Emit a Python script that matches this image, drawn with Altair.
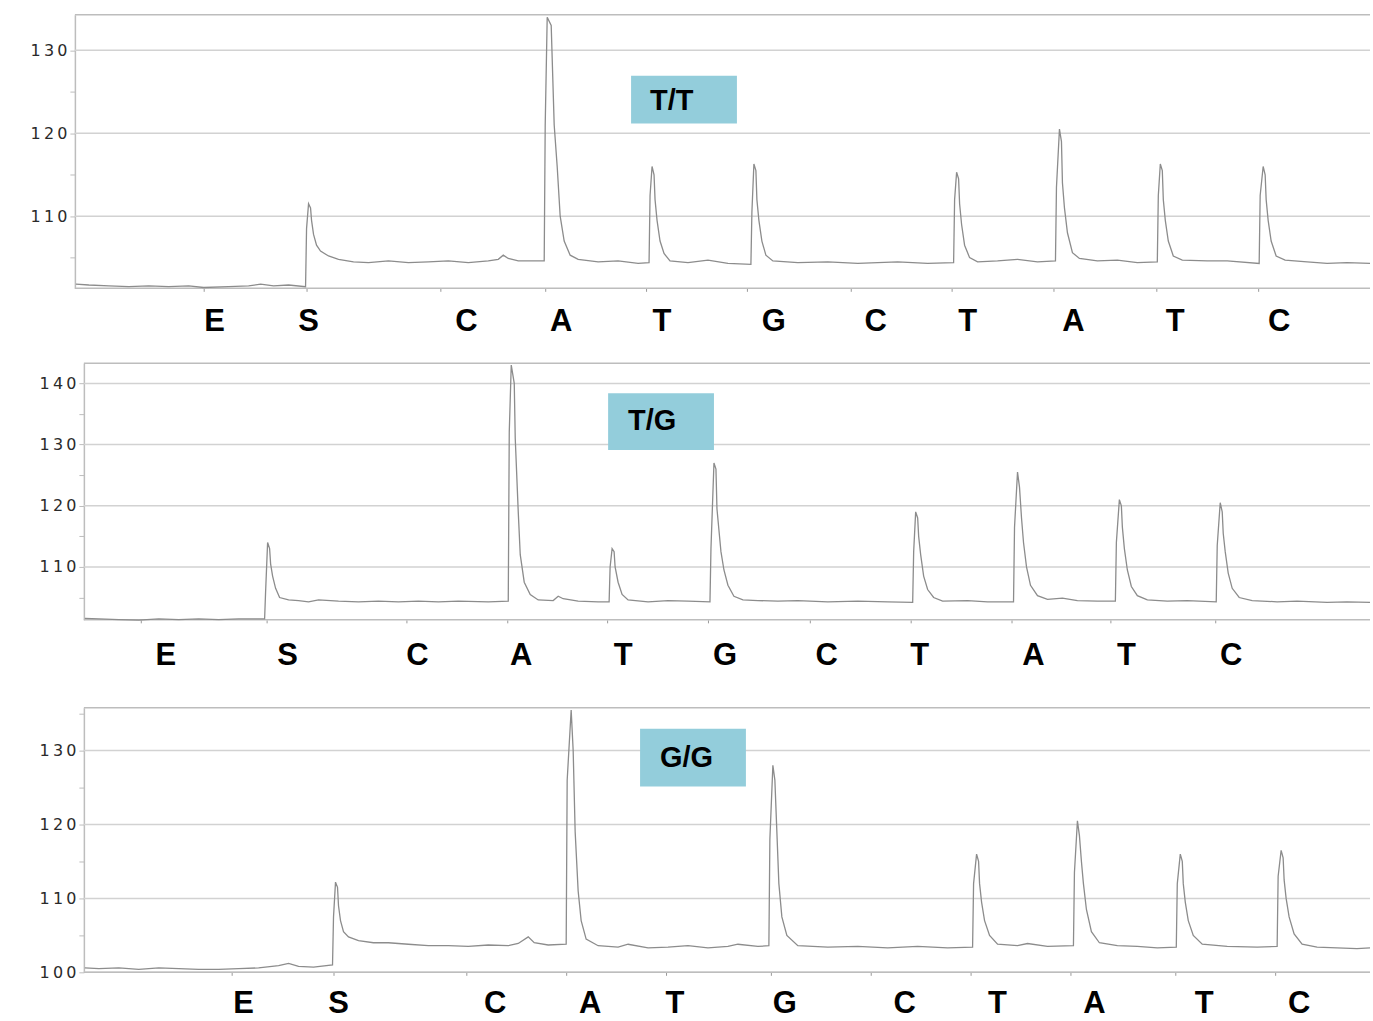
import altair as alt
import pandas as pd

# ---------------- data ----------------
DISPENSATION = ["E", "S", "C", "A", "T", "G", "C", "T", "A", "T", "C"]

GENOTYPES = ["T/T", "T/G", "G/G"]

# dispensation time (tick) positions per run
TICKS_TT = [205, 308, 442, 547, 648, 749, 853, 954, 1056, 1159, 1261]
TICKS_TG = [142, 268, 408, 509, 609, 710, 812, 913, 1014, 1113, 1218]
TICKS_GG = [233, 335, 468, 568, 668, 773, 873, 973, 1073, 1178, 1278]

# where each dispensation letter is printed under the trace
LETTER_T_TT = [216, 310, 468, 563, 664, 776, 878, 970, 1076, 1178, 1282]
LETTER_T_TG = [167, 289, 419, 523, 625, 727, 829, 922, 1036, 1129, 1234]
LETTER_T_GG = [245, 340, 497, 592, 677, 787, 907, 1000, 1097, 1207, 1302]

# light signal traces (time, signal)
TRACE_TT = [
    (77, 101.8), (90, 101.7), (110, 101.6), (130, 101.5), (150, 101.6), (170, 101.5),
    (190, 101.6), (205, 101.4), (230, 101.5), (250, 101.6), (262, 101.8), (275, 101.6),
    (290, 101.7), (307, 101.5),
    (308, 108.5), (310, 111.5), (312, 111.0), (313, 109.5), (315, 107.8), (318, 106.5),
    (322, 105.8), (330, 105.2), (340, 104.8), (355, 104.5), (370, 104.4), (390, 104.6),
    (410, 104.4), (430, 104.5), (450, 104.6), (470, 104.4), (490, 104.6), (500, 104.8),
    (505, 105.3), (510, 104.9), (520, 104.6), (546, 104.6),
    (547, 121.0), (549, 134.0), (553, 133.0), (556, 121.0), (559, 116.0), (562, 110.0),
    (566, 107.0), (572, 105.3), (580, 104.8), (600, 104.5), (620, 104.6), (640, 104.3),
    (651, 104.4),
    (652, 112.5), (654, 116.0), (656, 115.0), (657, 112.0), (659, 109.5), (662, 107.0),
    (666, 105.5), (672, 104.6), (690, 104.4), (710, 104.7), (730, 104.3), (753, 104.2),
    (754, 110.5), (756, 116.3), (758, 115.5), (759, 112.0), (761, 109.5), (764, 107.0),
    (768, 105.3), (775, 104.6), (800, 104.4), (830, 104.5), (860, 104.3), (900, 104.5),
    (930, 104.3), (956, 104.4),
    (957, 112.0), (959, 115.3), (961, 114.5), (962, 111.5), (964, 109.0), (967, 106.5),
    (972, 105.0), (980, 104.5), (1000, 104.6), (1020, 104.8), (1040, 104.5), (1058, 104.6),
    (1059, 113.5), (1062, 120.5), (1064, 119.0), (1065, 114.0), (1067, 111.0), (1070, 108.0),
    (1075, 105.6), (1082, 104.9), (1100, 104.6), (1120, 104.7), (1140, 104.4), (1160, 104.5),
    (1161, 112.5), (1163, 116.3), (1165, 115.5), (1166, 112.0), (1168, 109.5), (1171, 107.0),
    (1176, 105.2), (1185, 104.7), (1210, 104.6), (1230, 104.6), (1262, 104.3),
    (1263, 112.5), (1266, 116.0), (1268, 115.0), (1269, 112.0), (1271, 109.5), (1274, 107.0),
    (1279, 105.2), (1288, 104.7), (1310, 104.5), (1330, 104.3), (1350, 104.4), (1373, 104.3),
]

TRACE_TG = [
    (86, 101.6), (100, 101.5), (120, 101.4), (140, 101.3), (160, 101.5), (180, 101.4),
    (200, 101.5), (220, 101.4), (240, 101.5), (266, 101.5),
    (267, 106.0), (269, 114.0), (271, 113.0), (272, 110.5), (274, 108.5), (277, 106.5),
    (281, 105.0), (290, 104.6), (300, 104.5), (310, 104.3), (320, 104.6), (340, 104.4),
    (360, 104.3), (380, 104.4), (400, 104.3), (420, 104.4), (440, 104.3), (460, 104.4),
    (490, 104.3), (510, 104.4),
    (511, 132.0), (513, 143.0), (516, 140.0), (517, 131.0), (520, 119.0), (522, 112.0),
    (526, 107.5), (532, 105.5), (540, 104.6), (555, 104.5), (560, 105.2), (565, 104.8),
    (580, 104.4), (600, 104.3), (611, 104.3),
    (612, 110.0), (614, 113.0), (616, 112.5), (617, 110.0), (620, 107.5), (624, 105.5),
    (630, 104.6), (650, 104.3), (670, 104.5), (690, 104.4), (712, 104.3),
    (713, 113.0), (716, 127.0), (718, 126.0), (719, 119.5), (721, 116.0), (723, 112.5),
    (726, 109.5), (730, 107.0), (736, 105.2), (745, 104.6), (760, 104.5), (780, 104.4),
    (800, 104.5), (830, 104.3), (860, 104.4), (890, 104.3), (915, 104.2),
    (916, 112.5), (918, 119.0), (920, 118.0), (921, 115.0), (923, 112.0), (926, 108.5),
    (930, 106.3), (936, 105.0), (945, 104.4), (970, 104.5), (990, 104.3), (1016, 104.3),
    (1017, 116.5), (1020, 125.5), (1022, 123.0), (1024, 118.0), (1026, 114.0), (1029, 110.0),
    (1033, 107.0), (1040, 105.3), (1050, 104.7), (1065, 104.9), (1080, 104.5), (1100, 104.4),
    (1118, 104.4),
    (1119, 114.0), (1122, 121.0), (1124, 120.0), (1125, 116.5), (1127, 113.0), (1130, 109.5),
    (1134, 106.8), (1140, 105.3), (1150, 104.6), (1170, 104.4), (1190, 104.5), (1219, 104.3),
    (1220, 113.5), (1223, 120.5), (1225, 119.0), (1226, 115.5), (1228, 112.5), (1231, 109.0),
    (1235, 106.5), (1242, 105.0), (1255, 104.5), (1280, 104.3), (1300, 104.4), (1330, 104.2),
    (1350, 104.3), (1373, 104.2),
]

TRACE_GG = [
    (86, 100.6), (100, 100.5), (120, 100.6), (140, 100.4), (160, 100.6), (180, 100.5),
    (200, 100.4), (220, 100.4), (240, 100.5), (260, 100.6), (280, 100.9), (290, 101.2),
    (300, 100.8), (315, 100.7), (334, 101.0),
    (335, 107.5), (337, 112.2), (339, 111.5), (340, 109.0), (342, 107.0), (345, 105.5),
    (350, 104.8), (360, 104.3), (375, 104.0), (390, 104.0), (410, 103.8), (430, 103.6),
    (450, 103.6), (470, 103.5), (490, 103.7), (510, 103.6), (520, 103.9), (530, 104.8),
    (536, 104.0), (550, 103.7), (568, 103.8),
    (569, 126.0), (573, 135.5), (575, 130.0), (577, 119.0), (580, 111.0), (583, 107.0),
    (588, 104.5), (600, 103.6), (620, 103.4), (630, 103.8), (650, 103.3), (670, 103.4),
    (690, 103.6), (710, 103.3), (730, 103.5), (740, 103.8), (760, 103.5), (771, 103.6),
    (772, 118.0), (775, 128.0), (777, 126.0), (779, 119.0), (781, 112.0), (784, 107.5),
    (789, 105.0), (800, 103.6), (830, 103.4), (860, 103.5), (890, 103.3), (920, 103.5),
    (950, 103.3), (975, 103.4),
    (976, 112.0), (979, 116.0), (981, 115.0), (982, 112.0), (984, 109.5), (987, 107.0),
    (992, 105.0), (1000, 103.8), (1020, 103.6), (1030, 103.9), (1050, 103.5), (1076, 103.6),
    (1077, 113.5), (1080, 120.5), (1082, 118.5), (1084, 115.0), (1086, 112.0), (1089, 108.5),
    (1094, 105.5), (1102, 104.0), (1120, 103.6), (1140, 103.5), (1160, 103.3), (1179, 103.4),
    (1180, 112.0), (1183, 116.0), (1185, 115.0), (1186, 112.0), (1188, 109.5), (1191, 107.0),
    (1196, 105.0), (1205, 103.8), (1230, 103.5), (1260, 103.4), (1280, 103.5),
    (1281, 113.0), (1284, 116.5), (1286, 115.5), (1287, 112.5), (1289, 110.0), (1292, 107.5),
    (1297, 105.2), (1305, 103.8), (1320, 103.4), (1340, 103.3), (1360, 103.2), (1373, 103.3),
]

Y_DOMAIN_TT = [101.3, 134.3]
Y_DOMAIN_TG = [101.35, 143.3]
Y_DOMAIN_GG = [100.0, 135.8]

MAJOR_TT = [110, 120, 130]
MAJOR_TG = [110, 120, 130, 140]
MAJOR_GG = [100, 110, 120, 130]
MINOR_TT = [105, 115, 125]
MINOR_TG = [105, 115, 125, 135]
MINOR_GG = [105, 115, 125, 135]

# ---------------- chart ----------------
T0, T1 = 76, 1373
W = T1 - T0
GRID = "#d2d2d2"
AXIS = "#bdbdbd"
TRACE = "#8c8c8c"
BOX = "#93CDDB"

# wide, spaced digits for the y labels
LABEL_EXPR = ("datum.value % 10 == 0 ? "
              "join(split(toString(datum.value), ''), '\u2009') : ''")


def panel(trace, ydom, height, start, ticks, letter_t, major, minor, label,
          box, text_pos, letter_y):
    xs = alt.Scale(domain=[T0, T1], nice=False, zero=False)
    ys = alt.Scale(domain=ydom, nice=False, zero=False)
    xaxis = alt.Axis(values=ticks, labels=False, domain=False, grid=False,
                     ticks=True, tickSize=3, tickColor="#999999", title=None)
    yaxis = alt.Axis(values=sorted(major + minor),
                     labelExpr=LABEL_EXPR,
                     grid=False, domainColor=AXIS, domainWidth=1.5,
                     tickColor=AXIS, tickSize=5, labelFont="DejaVu Sans",
                     labelFontSize=16, labelColor="#2a2a2a", labelPadding=3,
                     offset=T0 - start, title=None)
    df = pd.DataFrame(trace, columns=["t", "s"])

    grid = alt.Chart(pd.DataFrame({"v": major})).mark_rule(
        color=GRID, strokeWidth=1.5
    ).encode(
        y=alt.Y("v:Q", scale=ys, axis=yaxis),
        x=alt.XDatum(start, scale=xs, axis=xaxis),
        x2=alt.X2Datum(T1),
    )
    frame = alt.Chart(pd.DataFrame({"v": [ydom[1], ydom[0]]})).mark_rule(
        color=AXIS, strokeWidth=1.5
    ).encode(
        y=alt.Y("v:Q", scale=ys, axis=yaxis),
        x=alt.XDatum(start, scale=xs, axis=xaxis),
        x2=alt.X2Datum(T1),
    )
    line = alt.Chart(df).mark_line(color=TRACE, strokeWidth=1.3).encode(
        x=alt.X("t:Q", scale=xs, axis=xaxis),
        y=alt.Y("s:Q", scale=ys, axis=yaxis),
    )
    lab_df = pd.DataFrame({"t": letter_t, "base": DISPENSATION})
    letters = alt.Chart(lab_df).mark_text(
        font="Liberation Sans", fontWeight="bold", fontSize=31, color="black",
        baseline="middle", align="center"
    ).encode(
        x=alt.X("t:Q", scale=xs, axis=xaxis),
        y=alt.value(letter_y),
        text="base:N",
    )
    gdf = pd.DataFrame({"g": [label]})
    rect = alt.Chart(gdf).mark_rect(color=BOX).encode(
        x=alt.value(box[0]), x2=alt.value(box[1]),
        y=alt.value(box[2]), y2=alt.value(box[3]),
    )
    txt = alt.Chart(gdf).mark_text(
        font="Liberation Sans", fontWeight="bold", fontSize=29, color="black",
        align="left", baseline="middle"
    ).encode(x=alt.value(text_pos[0]), y=alt.value(text_pos[1]), text="g:N")

    return alt.layer(grid, frame, line, rect, txt, letters).properties(
        width=W, height=height)


p1 = panel(TRACE_TT, Y_DOMAIN_TT, 274, 76, TICKS_TT, LETTER_T_TT, MAJOR_TT,
           MINOR_TT, GENOTYPES[0], (557, 663, 61, 109), (576, 86), 308)
p2 = panel(TRACE_TG, Y_DOMAIN_TG, 257, 85, TICKS_TG, LETTER_T_TG, MAJOR_TG,
           MINOR_TG, GENOTYPES[1], (534, 640, 30, 87), (554, 58), 293)
p3 = panel(TRACE_GG, Y_DOMAIN_GG, 265, 85, TICKS_GG, LETTER_T_GG, MAJOR_GG,
           MINOR_GG, GENOTYPES[2], (566, 672, 21, 79), (586, 50), 297)

inner = alt.vconcat(p2, p3, spacing=88, bounds="flush")
chart = alt.vconcat(p1, inner, spacing=75, bounds="flush").properties(
    padding={"left": 30, "top": 13, "right": 0, "bottom": 0},
    background="white",
).configure_view(stroke=None)

chart.save("out.html", embed_options={"renderer": "svg", "actions": False})
